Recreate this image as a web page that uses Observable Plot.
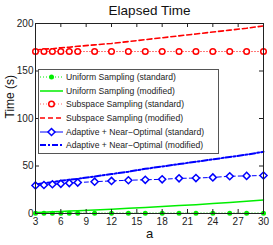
<!DOCTYPE html>
<html><head><meta charset="utf-8">
<script src="https://cdn.jsdelivr.net/npm/d3@7"></script>
<script src="https://cdn.jsdelivr.net/npm/@observablehq/plot@0.6"></script>
<style>
body{margin:0;background:#fff;font-family:"Liberation Sans",Arial,sans-serif;}
#wrap{position:relative;width:273px;height:245px;}
#legend{position:absolute;left:38px;top:69px;width:181px;height:85px;box-sizing:border-box;border:1px solid #555;background:#fff;}
.row{height:13.7px;display:flex;align-items:center;font-size:8.6px;color:#222;white-space:nowrap;font-family:"Liberation Sans",Arial,sans-serif;}
.row svg{margin-left:1px;margin-right:3px;flex:none;}
</style></head>
<body><div id="wrap"></div>
<script>
const a = [3,4,5,6,7,8,10,12,14,16,18,20,22,24,26,28,30];
const uniformStd = [0.3,0.3,0.3,0.3,0.3,0.3,0.3,0.3,0.3,0.3,0.3,0.3,0.3,0.3,0.3,0.3,0.3];
const uniformMod = [1,1.4,1.8,2.2,2.6,3,3.8,4.6,5.5,6.4,7.3,8.3,9.3,10.4,11.5,12.8,14.3];
const subspaceStd = [170.5,170.5,170.5,170.5,170.5,170.5,170.5,170.5,170.5,170.5,170.5,170.5,170.5,170.5,170.5,170.5,170.5];
const subspaceMod = [172,173,173.5,174.5,175,176,177.5,179,181,183,185,187,189,191,193,195,197.5];
const adaptiveStd = [29.5,30,30.8,31.3,32,32.6,33.5,34.3,35,35.5,36,37,37.3,38,39.2,39.6,40];
const adaptiveMod = [30.5,32,33,34.5,35.5,36.5,39,41.5,44,47,49.5,52,54.5,57,59.5,62,65];
const xTicks = [3,6,9,12,15,18,21,24,27,30];
const yTicks = [0,50,100,150,200];
const title = "Elapsed Time";
const xLabel = "a";
const yLabel = "Time (s)";
const seriesNames = ["Uniform Sampling (standard)","Uniform Sampling (modified)","Subspace Sampling (standard)","Subspace Sampling (modified)","Adaptive + Near\u2212Optimal (standard)","Adaptive + Near\u2212Optimal (modified)"];

const tbl = ys => a.map((x,i)=>({x, y: ys[i]}));
const G="#00ee00", R="#ff0000", B="#0000ff";

const chart = Plot.plot({
  width:273, height:245, marginLeft:35, marginRight:10, marginTop:23, marginBottom:32,
  style:{fontFamily:"'Liberation Sans',Arial,sans-serif", fontSize:"10px", background:"white", color:"#222"},
  x:{domain:[3,30], ticks:xTicks, tickSize:0, tickPadding:4, label:null},
  y:{domain:[0,200], ticks:yTicks, tickSize:0, tickPadding:2, label:null},
  marks:[
    Plot.line(tbl(uniformStd), {x:"x", y:"y", stroke:G, strokeWidth:1, strokeDasharray:"1,2"}),
    Plot.line(tbl(uniformMod), {x:"x", y:"y", stroke:G, strokeWidth:1.5}),
    Plot.line(tbl(subspaceStd), {x:"x", y:"y", stroke:R, strokeWidth:1, strokeOpacity:0.6, strokeDasharray:"1,2"}),
    Plot.line(tbl(subspaceMod), {x:"x", y:"y", stroke:R, strokeWidth:1.6, strokeDasharray:"5,3"}),
    Plot.line(tbl(adaptiveStd), {x:"x", y:"y", stroke:B, strokeWidth:1, strokeDasharray:"4,3"}),
    Plot.line(tbl(adaptiveMod), {x:"x", y:"y", stroke:B, strokeWidth:2, strokeDasharray:"6,2,2,2"}),
    Plot.dot(tbl(uniformStd), {x:"x", y:"y", r:2.5, fill:G, stroke:"none"}),
    Plot.dot(tbl(subspaceStd), {x:"x", y:"y", r:2.8, fill:"white", stroke:R, strokeWidth:1.5}),
    Plot.dot(tbl(adaptiveStd), {x:"x", y:"y", r:3.2, symbol:"diamond2", fill:"white", stroke:B, strokeWidth:1.5}),
    Plot.frame({stroke:"#222"}),
    Plot.tickX(xTicks, {x:d=>d, insetTop:186, stroke:"#222"}),
    Plot.tickX(xTicks, {x:d=>d, insetBottom:186, stroke:"#222"}),
    Plot.tickY(yTicks, {y:d=>d, insetRight:224, stroke:"#222"}),
    Plot.tickY(yTicks, {y:d=>d, insetLeft:224, stroke:"#222"}),
    Plot.text([title], {frameAnchor:"top", lineAnchor:"middle", dy:-13, fontSize:13.5, fill:"#111"}),
    Plot.text([xLabel], {frameAnchor:"bottom", lineAnchor:"middle", dy:20, fontSize:13, fill:"#111"}),
    Plot.text([yLabel], {frameAnchor:"left", dx:-25, rotate:-90, fontSize:12, fill:"#111"})
  ]
});
const wrap = document.getElementById("wrap");
wrap.appendChild(chart);

// legend overlay
const swatches = [
  `<line x1="0" x2="23" y1="7" y2="7" stroke="${G}" stroke-dasharray="1,2"/><circle cx="11.5" cy="7" r="2.5" fill="${G}"/>`,
  `<line x1="0" x2="23" y1="7" y2="7" stroke="${G}" stroke-width="1.5"/>`,
  `<line x1="0" x2="23" y1="7" y2="7" stroke="${R}" stroke-opacity="0.6" stroke-dasharray="1,2"/><circle cx="11.5" cy="7" r="2.8" fill="white" stroke="${R}" stroke-width="1.5"/>`,
  `<line x1="0" x2="23" y1="7" y2="7" stroke="${R}" stroke-width="1.6" stroke-dasharray="5,3"/>`,
  `<line x1="0" x2="23" y1="7" y2="7" stroke="${B}" stroke-width="1"/><path d="M11.5,3.5L15,7L11.5,10.5L8,7Z" fill="white" stroke="${B}" stroke-width="1.5"/>`,
  `<line x1="0" x2="23" y1="7" y2="7" stroke="${B}" stroke-width="2" stroke-dasharray="6,2,2,2"/>`
];
const leg = document.createElement("div");
leg.id = "legend";
leg.innerHTML = seriesNames.map((n,i)=>`<div class="row"><svg width="23" height="14">${swatches[i]}</svg><span>${n}</span></div>`).join("");
wrap.appendChild(leg);
</script></body></html>
